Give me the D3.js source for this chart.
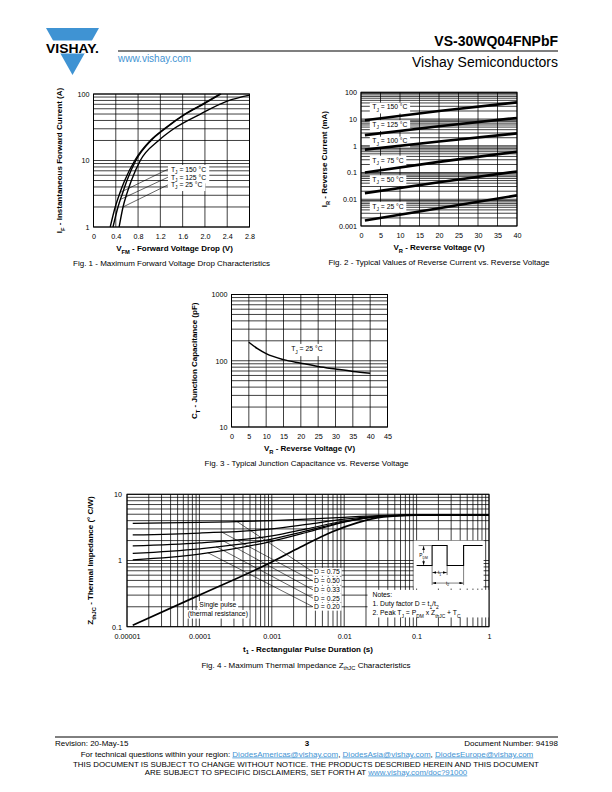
<!DOCTYPE html>
<html><head><meta charset="utf-8">
<script src="https://cdn.jsdelivr.net/npm/d3@7"></script>
<style>
body{margin:0;background:#fff}
svg text{font-family:"Liberation Sans",Arial,Helvetica,sans-serif;fill:#000}
</style>
</head><body>
<svg id="page" width="612" height="792" xmlns="http://www.w3.org/2000/svg"></svg>
<script>
// ================= DATA =================
// Fig. 1 - forward voltage drop: [V, A]
const fig1Labels = ["150", "125", "25"];
const fig1_150C = [[0.30,1],[0.39,2],[0.47,3.2],[0.56,5],[0.74,10],[1.02,20],[1.27,30],[1.64,50],[1.95,70],[2.27,100]];
const fig1_125C = [[0.35,1],[0.44,2],[0.52,3.2],[0.60,5],[0.76,10],[1.035,20],[1.285,30],[1.655,50],[1.97,70],[2.29,100]];
const fig1_25C  = [[0.46,1],[0.53,2],[0.60,3.2],[0.68,5],[0.84,10],[1.17,20],[1.44,30],[1.92,50],[2.40,78],[2.80,96]];
const fig1XTicks = [0,0.4,0.8,1.2,1.6,2.0,2.4,2.8];
const fig1YTicks = [1,10,100];

// Fig. 2 - reverse current: [V, mA]
const fig2Labels = ["150","125","100","75","50","25"];
const fig2_150C = [[1,9],[20,20],[40,42]];
const fig2_125C = [[1,2.5],[20,5.4],[40,11]];
const fig2_100C = [[1,0.72],[20,1.45],[40,2.9]];
const fig2_75C  = [[1,0.1],[20,0.25],[40,0.6]];
const fig2_50C  = [[1,0.017],[20,0.043],[40,0.11]];
const fig2_25C  = [[1,0.0016],[20,0.0046],[40,0.014]];
const fig2XTicks = [0,5,10,15,20,25,30,35,40];
const fig2YTicks = [0.001,0.01,0.1,1,10,100];

// Fig. 3 - junction capacitance: [V, pF]
const fig3Cap = [[5,190],[7.5,152],[10,128],[15,104],[20,92],[25,82],[30,75],[35,69],[40,65]];
const fig3XTicks = [0,5,10,15,20,25,30,35,40,45];
const fig3YTicks = [10,100,1000];

// Fig. 4 - thermal impedance: [s, °C/W]
const fig4Labels = ["D = 0.75","D = 0.50","D = 0.33","D = 0.25","D = 0.20"];
const fig4_D075 = [[1.2e-5,3.65],[1e-4,3.75],[1e-3,4.0],[3e-3,4.2],[1e-2,4.5],[3e-2,4.75],[0.1,4.87],[1,4.9]];
const fig4_D050 = [[1.2e-5,2.43],[1e-4,2.6],[1e-3,3.0],[3e-3,3.5],[1e-2,4.2],[3e-2,4.7],[0.1,4.86],[1,4.9]];
const fig4_D033 = [[1.2e-5,1.66],[1e-4,1.85],[1e-3,2.35],[3e-3,3.0],[1e-2,3.95],[3e-2,4.65],[0.1,4.86],[1,4.9]];
const fig4_D025 = [[1.2e-5,1.28],[1e-4,1.5],[1e-3,2.1],[3e-3,2.8],[1e-2,3.85],[3e-2,4.6],[0.1,4.86],[1,4.9]];
const fig4_D020 = [[1.2e-5,1.02],[1e-4,1.25],[1e-3,1.95],[3e-3,2.65],[1e-2,3.8],[3e-2,4.6],[0.1,4.86],[1,4.9]];
const fig4_single = [[1.2e-5,0.105],[1e-4,0.30],[1e-3,0.95],[2.5e-3,1.6],[7e-3,2.75],[1.5e-2,3.7],[3.5e-2,4.55],[0.1,4.85],[1,4.9]];
const fig4XTicks = [1e-5,1e-4,1e-3,1e-2,1e-1,1];
const fig4XLabels = ["0.00001","0.0001","0.001","0.01","0.1","1"];
const fig4YTicks = [0.1,1,10];
const fig4YLabels = ["0.1","1","10"];

// ================= HELPERS =================
const svg = d3.select("#page");
const BLUE = "#3f93d3";
const TICK_FS = 7.2, TITLE_FS = 8.0, CAP_FS = 8.0, LBL_FS = 6.8;

const defs = svg.append("defs");
defs.append("marker").attr("id","arr").attr("viewBox","0 0 6 4").attr("refX",6).attr("refY",2)
  .attr("markerWidth",4).attr("markerHeight",2.6).attr("markerUnits","userSpaceOnUse")
  .attr("orient","auto-start-reverse")
  .append("path").attr("d","M0,0L6,2L0,4z").attr("fill","#000");

function logGrid(lo, hi){
  const out=[];
  for(let e=Math.round(Math.log10(lo)); e<Math.round(Math.log10(hi)); e++){
    for(let m=1;m<10;m++) out.push(m*Math.pow(10,e));
  }
  out.push(hi);
  return out;
}
// text with subscripts: parts are strings or [sub]
function rich(parent, parts, fs, weight){
  const t = parent.append("text").attr("font-size", fs);
  if(weight) t.attr("font-weight", weight);
  let shift = 0;
  parts.forEach(p=>{
    const sub = Array.isArray(p);
    const target = sub ? fs*0.32 : 0;
    t.append("tspan").attr("dy", target-shift).attr("font-size", sub? fs*0.72 : fs).text(sub? p[0] : p);
    shift = target;
  });
  return t;
}
function boxBehind(layer, textSel, padX, padY){
  const b = textSel.node().getBBox();
  layer.append("rect").attr("x", b.x-padX).attr("y", b.y-padY)
    .attr("width", b.width+2*padX).attr("height", b.height+2*padY).attr("fill","#fff");
  return b;
}
function xAtY(curve, yv){
  for(let i=0;i<curve.length-1;i++){
    const [xa,ya]=curve[i],[xb,yb]=curve[i+1];
    if(yv>=ya && yv<=yb){ const f=(Math.log10(yv)-Math.log10(ya))/(Math.log10(yb)-Math.log10(ya)); return xa+f*(xb-xa); }
  }
  return curve[curve.length-1][0];
}
function yAtXlog(curve, xv){
  for(let i=0;i<curve.length-1;i++){
    const [xa,ya]=curve[i],[xb,yb]=curve[i+1];
    if(xv>=xa && xv<=xb){ const f=(Math.log10(xv)-Math.log10(xa))/(Math.log10(xb)-Math.log10(xa)); return Math.pow(10, Math.log10(ya)+f*(Math.log10(yb)-Math.log10(ya))); }
  }
  return curve[curve.length-1][1];
}

function panel(o){
  const g = svg.append("g");
  const [xa,xb] = o.x.range(), [yb0,yt] = o.y.range();
  const L = {
    grid: g.append("g").attr("stroke","#000").attr("stroke-width",0.75),
    box: g.append("g"),
    curve: g.append("g").attr("fill","none").attr("stroke","#000"),
    ann: g.append("g").attr("fill","none").attr("stroke","#000").attr("stroke-width",0.6),
    text: g.append("g"),
    frame: g.append("g")
  };
  L.grid.selectAll("line.v").data(o.xGrid).join("line").attr("class","v")
    .attr("x1",d=>o.x(d)).attr("x2",d=>o.x(d)).attr("y1",yb0).attr("y2",yt);
  L.grid.selectAll("line.h").data(o.yGrid).join("line").attr("class","h")
    .attr("y1",d=>o.y(d)).attr("y2",d=>o.y(d)).attr("x1",xa).attr("x2",xb);
  const ay = d3.axisLeft(o.y).tickValues(o.yTicks).tickFormat(o.yFmt).tickSize(0).tickPadding(o.yPad||4);
  const gy = g.append("g").attr("transform",`translate(${xa},0)`).call(ay);
  gy.select(".domain").remove();
  gy.selectAll("text").attr("font-size",TICK_FS).attr("font-family",null).attr("fill","#000");
  const ax = d3.axisBottom(o.x).tickValues(o.xTicks).tickFormat(o.xFmt).tickSize(0).tickPadding(o.xPad||7);
  const gx = g.append("g").attr("transform",`translate(0,${yb0})`).call(ax);
  gx.select(".domain").remove();
  gx.selectAll("text").attr("font-size",TICK_FS).attr("font-family",null).attr("fill","#000");
  L.frame.append("rect").attr("x",xa).attr("y",yt).attr("width",xb-xa).attr("height",yb0-yt)
    .attr("fill","none").attr("stroke","#000").attr("stroke-width",1);
  const cx = (xa+xb)/2 + (o.xTitleDx||0);
  rich(g, o.xTitle, TITLE_FS, "bold").attr("x",cx).attr("y",yb0+o.xTitleDy).attr("text-anchor","middle");
  rich(g, o.caption, CAP_FS).attr("x",(xa+xb)/2+(o.capDx||0)).attr("y",yb0+o.capDy).attr("text-anchor","middle");
  const cy = (yb0+yt)/2;
  rich(g, o.yTitle, TITLE_FS, "bold").attr("transform",`translate(${o.yTitleX},${cy}) rotate(-90)`).attr("text-anchor","middle");
  return L;
}

// ================= HEADER =================
svg.append("polygon").attr("points","46,28 99,28 72.5,75").attr("fill",BLUE);
svg.append("rect").attr("x",40).attr("y",40.5).attr("width",66).attr("height",13).attr("fill","#fff");
svg.append("text").attr("x",72.5).attr("y",52.5).attr("text-anchor","middle").attr("font-size",13)
  .attr("font-weight","bold").attr("textLength",53).attr("lengthAdjust","spacingAndGlyphs").text("VISHAY.");
svg.append("text").attr("x",118).attr("y",61.5).attr("font-size",10).style("fill",BLUE).text("www.vishay.com");
svg.append("line").attr("x1",118).attr("x2",558).attr("y1",51).attr("y2",51).attr("stroke","#000").attr("stroke-width",1.2);
svg.append("text").attr("x",558).attr("y",46).attr("text-anchor","end").attr("font-size",14).attr("font-weight","bold").text("VS-30WQ04FNPbF");
svg.append("text").attr("x",558).attr("y",67).attr("text-anchor","end").attr("font-size",14).text("Vishay Semiconductors");

// ================= FIG 1 =================
const x1 = d3.scaleLinear([0,2.8],[93.5,249.5]);
const y1 = d3.scaleLog([1,100],[227,94]);
const P1 = panel({x:x1,y:y1,xGrid:fig1XTicks,yGrid:logGrid(1,100),xTicks:fig1XTicks,yTicks:fig1YTicks,
  xFmt:d=>d===0?"0":d.toFixed(1), yFmt:d=>String(d),
  xTitle:["V",["FM"]," - Forward Voltage Drop (V)"], xTitleDy:24, xTitleDx:3,
  caption:["Fig. 1 - Maximum Forward Voltage Drop Characteristics"], capDy:39,
  yTitle:["I",["F"]," - Instantaneous Forward Current (A)"], yTitleX:62});
const line1 = d3.line().x(d=>x1(d[0])).y(d=>y1(d[1])).curve(d3.curveMonotoneX);
[fig1_150C, fig1_125C, fig1_25C].forEach(c=>P1.curve.append("path").attr("d",line1(c)).attr("stroke-width",1.4));
const fig1LabelV = 1.39, fig1LabelI = [7.4,5.6,4.3], fig1AnchorI = [3.3,2.6,2.0];
[fig1_150C, fig1_125C, fig1_25C].forEach((c,i)=>{
  const t = rich(P1.text, ["T",["J"]," = "+fig1Labels[i]+" °C"], LBL_FS)
    .attr("x",x1(fig1LabelV)).attr("y",y1(fig1LabelI[i])+LBL_FS*0.35);
  const b = boxBehind(P1.box, t, 3, 0.6);
  P1.ann.append("line").attr("x1",b.x-3).attr("y1",y1(fig1LabelI[i])).attr("x2",x1(xAtY(c,fig1AnchorI[i]))).attr("y2",y1(fig1AnchorI[i]));
});

// ================= FIG 2 =================
const x2 = d3.scaleLinear([0,40],[361,517]);
const y2 = d3.scaleLog([0.001,100],[226,92.3]);
const P2 = panel({x:x2,y:y2,xGrid:fig2XTicks,yGrid:logGrid(0.001,100),xTicks:fig2XTicks,yTicks:fig2YTicks,
  xFmt:d=>String(d), yFmt:d=>String(d),
  xTitle:["V",["R"]," - Reverse Voltage (V)"], xTitleDy:24,
  caption:["Fig. 2 - Typical Values of Reverse Current vs. Reverse Voltage"], capDy:39,
  yTitle:["I",["R"]," - Reverse Current (mA)"], yTitleX:327});
const line2 = d3.line().x(d=>x2(d[0])).y(d=>y2(d[1]));
const fig2Series = [fig2_150C,fig2_125C,fig2_100C,fig2_75C,fig2_50C,fig2_25C];
fig2Series.forEach(c=>P2.curve.append("path").attr("d",line2(c)).attr("stroke-width",2.6));
const fig2LabelV = 2.9, fig2LabelI = [28,6.2,1.5,0.29,0.054,0.0055];
fig2Labels.forEach((s,i)=>{
  const t = rich(P2.text, ["T",["J"]," = "+s+" °C"], LBL_FS).attr("x",x2(fig2LabelV)).attr("y",y2(fig2LabelI[i])+LBL_FS*0.35);
  boxBehind(P2.box, t, 2.5, 0.8);
});

// ================= FIG 3 =================
const x3 = d3.scaleLinear([0,45],[231.5,387.5]);
const y3 = d3.scaleLog([10,1000],[427,294.5]);
const P3 = panel({x:x3,y:y3,xGrid:fig3XTicks,yGrid:logGrid(10,1000),xTicks:fig3XTicks,yTicks:fig3YTicks,
  xFmt:d=>String(d), yFmt:d=>String(d),
  xTitle:["V",["R"]," - Reverse Voltage (V)"], xTitleDy:24,
  caption:["Fig. 3 - Typical Junction Capacitance vs. Reverse Voltage"], capDy:39, capDx:-3,
  yTitle:["C",["T"]," - Junction Capacitance (pF)"], yTitleX:197});
const line3 = d3.line().x(d=>x3(d[0])).y(d=>y3(d[1])).curve(d3.curveMonotoneX);
P3.curve.append("path").attr("d",line3(fig3Cap)).attr("stroke-width",1.5);
{
  const t = rich(P3.text, ["T",["J"]," = 25 °C"], LBL_FS).attr("x",x3(17.2)).attr("y",y3(150)+LBL_FS*0.35);
  boxBehind(P3.box, t, 3, 1.5);
}

// ================= FIG 4 =================
const x4 = d3.scaleLog([1e-5,1],[127,489]);
const y4 = d3.scaleLog([0.1,10],[626.7,494.3]);
const P4 = panel({x:x4,y:y4,xGrid:logGrid(1e-5,1),yGrid:logGrid(0.1,10),xTicks:fig4XTicks,yTicks:fig4YTicks,
  xFmt:(d,i)=>fig4XLabels[i], yFmt:(d,i)=>fig4YLabels[i], yPad:5,
  xTitle:["t",["1"]," - Rectangular Pulse Duration (s)"], xTitleDy:25,
  caption:["Fig. 4 - Maximum Thermal Impedance Z",["thJC"]," Characteristics"], capDy:41, capDx:-2,
  yTitle:["Z",["thJC"]," - Thermal Impedance (° C/W)"], yTitleX:93});
const line4 = d3.line().x(d=>x4(d[0])).y(d=>y4(d[1])).curve(d3.curveMonotoneX);
const fig4DSeries = [fig4_D075,fig4_D050,fig4_D033,fig4_D025,fig4_D020];
fig4DSeries.forEach(c=>P4.curve.append("path").attr("d",line4(c)).attr("stroke-width",1.25));
P4.curve.append("path").attr("d",line4(fig4_single)).attr("stroke-width",1.7);
const fig4LabelT = 0.00383, fig4LabelZ = [0.67,0.49,0.36,0.27,0.2], fig4AnchorT = [3.3e-4,2.0e-4,2.1e-4,1.7e-4,1.3e-4];
fig4Labels.forEach((s,i)=>{
  const t = P4.text.append("text").attr("font-size",LBL_FS).attr("x",x4(fig4LabelT)).attr("y",y4(fig4LabelZ[i])+LBL_FS*0.35).text(s);
  boxBehind(P4.box, t, 1.5, 0.5);
  const at = fig4AnchorT[i];
  P4.ann.append("line").attr("x1",x4(at)).attr("y1",y4(yAtXlog(fig4DSeries[i],at)))
    .attr("x2",x4(fig4LabelT)-1).attr("y2",y4(fig4LabelZ[i]));
});
{
  const cx = x4(1.8e-4);
  const t1 = P4.text.append("text").attr("font-size",LBL_FS).attr("text-anchor","middle").attr("x",cx).attr("y",y4(0.213)+LBL_FS*0.35).text("Single pulse");
  const t2 = P4.text.append("text").attr("font-size",LBL_FS).attr("text-anchor","middle").attr("x",cx).attr("y",y4(0.156)+LBL_FS*0.35).text("(thermal resistance)");
  boxBehind(P4.box, t1, 1.5, 0.3); boxBehind(P4.box, t2, 1.5, 0.3);
}
// notes box
{
  const nx = x4(0.021), ny = y4(0.36);
  P4.box.append("rect").attr("x",nx).attr("y",ny).attr("width",x4(1)-nx).attr("height",y4(0.138)-ny).attr("fill","#fff");
  const tx = nx+5;
  P4.text.append("text").attr("font-size",LBL_FS).attr("x",tx).attr("y",ny+7.5).text("Notes:");
  rich(P4.text,["1. Duty factor D = t",["1"],"/t",["2"]],LBL_FS).attr("x",tx).attr("y",ny+16.5);
  rich(P4.text,["2. Peak T",["J"]," = P",["DM"]," x Z",["thJC"]," + T",["C"]],LBL_FS).attr("x",tx).attr("y",ny+25.5);
}
// pulse inset
{
  const ix = x4(0.1), iy = y4(2.0);
  const g = P4.text.append("g").attr("transform",`translate(${ix},${iy})`);
  P4.box.append("rect").attr("x",ix-3).attr("y",iy).attr("width",70).attr("height",48).attr("fill","#fff");
  g.append("path").attr("d","M0,25H15.5V5H30.5V25H47V5H66").attr("fill","none").attr("stroke","#000").attr("stroke-width",1.1);
  g.append("path").attr("d","M15.5,25V44.5M30.5,25V34.5M47,25V44.5").attr("fill","none").attr("stroke","#000").attr("stroke-width",0.5);
  g.append("path").attr("d","M2,5H15M2,25H15").attr("fill","none").attr("stroke","#000").attr("stroke-width",0.5);
  g.append("line").attr("x1",7).attr("x2",7).attr("y1",5.5).attr("y2",24.5).attr("stroke","#000").attr("stroke-width",0.5)
    .attr("marker-start","url(#arr)").attr("marker-end","url(#arr)");
  const pd = rich(g,["P",["DM"]],4.8).attr("x",7).attr("y",16.5).attr("text-anchor","middle");
  const b = pd.node().getBBox();
  g.insert("rect","text").attr("x",b.x-0.5).attr("y",b.y).attr("width",b.width+1).attr("height",b.height).attr("fill","#fff");
  g.append("line").attr("x1",15.8).attr("x2",30.2).attr("y1",32).attr("y2",32).attr("stroke","#000").attr("stroke-width",0.5)
    .attr("marker-start","url(#arr)").attr("marker-end","url(#arr)");
  g.append("line").attr("x1",15.8).attr("x2",46.7).attr("y1",42.5).attr("y2",42.5).attr("stroke","#000").attr("stroke-width",0.5)
    .attr("marker-start","url(#arr)").attr("marker-end","url(#arr)");
  const l1 = rich(g,["t",["1"]],4.8).attr("x",23).attr("y",33.6).attr("text-anchor","middle");
  const l2 = rich(g,["t",["2"]],4.8).attr("x",31).attr("y",44.1).attr("text-anchor","middle");
  [l1,l2].forEach(l=>{const bb=l.node().getBBox(); g.insert("rect","text").attr("x",bb.x-1).attr("y",bb.y+0.5).attr("width",bb.width+2).attr("height",bb.height-1).attr("fill","#fff");});
}

// ================= FOOTER =================
svg.append("line").attr("x1",55).attr("x2",558).attr("y1",737).attr("y2",737).attr("stroke","#000").attr("stroke-width",1);
svg.append("text").attr("x",55).attr("y",745.5).attr("font-size",8).text("Revision: 20-May-15");
svg.append("text").attr("x",307).attr("y",746).attr("font-size",8).attr("font-weight","bold").attr("text-anchor","middle").text("3");
svg.append("text").attr("x",558).attr("y",745.5).attr("font-size",8).attr("text-anchor","end").text("Document Number: 94198");
{
  const t = svg.append("text").attr("x",307).attr("y",756.5).attr("font-size",8).attr("text-anchor","middle");
  const link = s=>t.append("tspan").style("fill",BLUE).style("text-decoration","underline").text(s);
  t.append("tspan").text("For technical questions within your region: ");
  link("DiodesAmericas@vishay.com"); t.append("tspan").text(", ");
  link("DiodesAsia@vishay.com"); t.append("tspan").text(", ");
  link("DiodesEurope@vishay.com");
  svg.append("text").attr("x",306).attr("y",766.5).attr("font-size",7.9).attr("text-anchor","middle")
    .text("THIS DOCUMENT IS SUBJECT TO CHANGE WITHOUT NOTICE. THE PRODUCTS DESCRIBED HEREIN AND THIS DOCUMENT");
  const t2 = svg.append("text").attr("x",306).attr("y",774.5).attr("font-size",7.9).attr("text-anchor","middle");
  t2.append("tspan").text("ARE SUBJECT TO SPECIFIC DISCLAIMERS, SET FORTH AT ");
  t2.append("tspan").style("fill",BLUE).style("text-decoration","underline").text("www.vishay.com/doc?91000");
}
</script>
</body></html>
